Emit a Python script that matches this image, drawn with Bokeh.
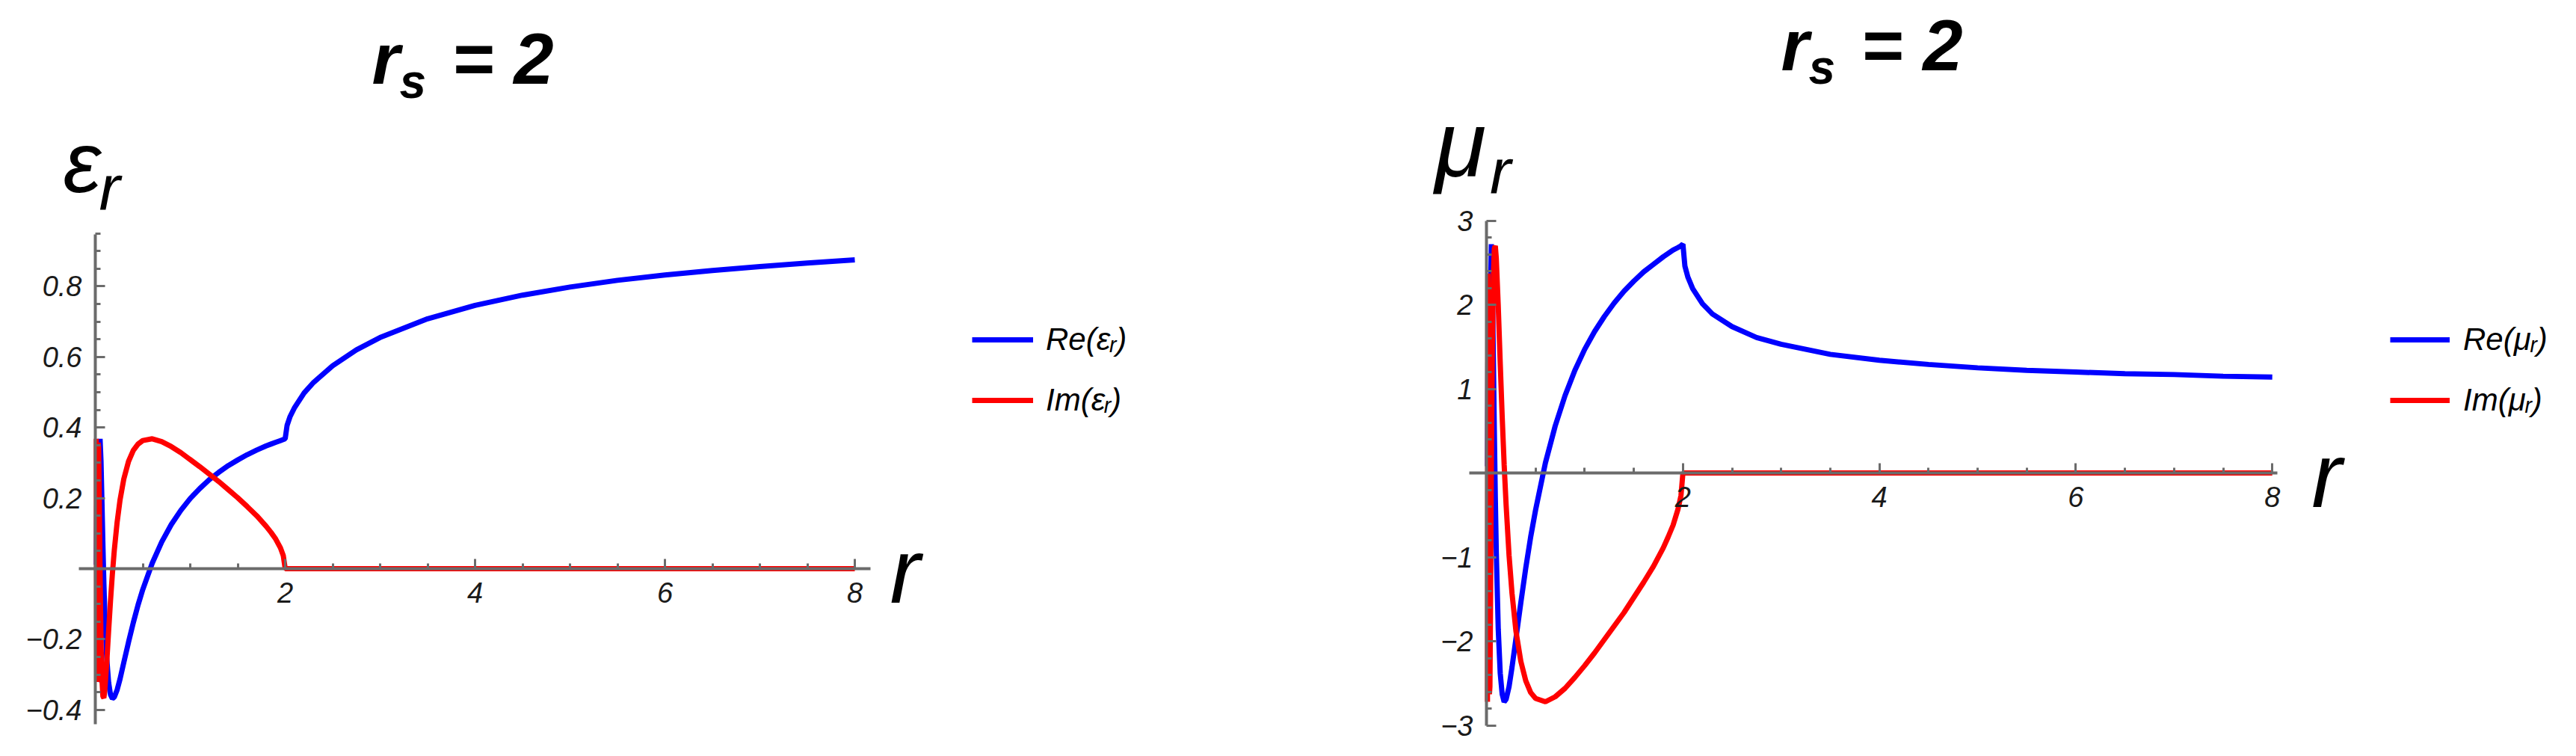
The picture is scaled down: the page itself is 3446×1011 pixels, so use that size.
from bokeh.plotting import figure
from bokeh.models import Range1d, LinearAxis, FixedTicker, Label, Legend, LegendItem
from bokeh.layouts import row
from bokeh.embed import file_html
from bokeh.resources import INLINE
import numpy as np

# ---------------- data ----------------
r = [0.01, 0.015, 0.02, 0.025, 0.03, 0.035, 0.04, 0.05, 0.06, 0.07, 0.08, 0.09, 0.1,
     0.12, 0.14, 0.16, 0.18, 0.2, 0.23, 0.26, 0.3, 0.35, 0.4, 0.45, 0.5, 0.6, 0.7, 0.8,
     0.9, 1.0, 1.1, 1.2, 1.3, 1.4, 1.5, 1.6, 1.7, 1.8, 1.85, 1.9, 1.95, 1.98, 2.0,
     2.02, 2.05, 2.1, 2.2, 2.3, 2.5, 2.75, 3.0, 3.5, 4.0, 4.5, 5.0, 5.5, 6.0, 6.5, 7.0,
     7.5, 8.0]

eps_re = [0.011, 0.179, -0.318, -0.316, -0.091, 0.130, 0.277, 0.368, 0.304, 0.189, 0.068,
          -0.039, -0.127, -0.252, -0.322, -0.357, -0.368, -0.364, -0.343, -0.313, -0.266,
          -0.208, -0.153, -0.103, -0.059, 0.016, 0.076, 0.125, 0.165, 0.199, 0.227, 0.252,
          0.273, 0.292, 0.308, 0.323, 0.336, 0.348, 0.353, 0.358, 0.363, 0.366, 0.368,
          0.406, 0.430, 0.457, 0.498, 0.528, 0.575, 0.620, 0.655, 0.708, 0.746, 0.775,
          0.798, 0.817, 0.832, 0.845, 0.856, 0.866, 0.875]

eps_im = [0.368, -0.321, -0.184, 0.188, 0.357, 0.344, 0.242, -0.014, -0.207, -0.316, -0.362,
          -0.366, -0.345, -0.268, -0.177, -0.091, -0.014, 0.052, 0.132, 0.194, 0.254, 0.304,
          0.335, 0.353, 0.363, 0.368, 0.360, 0.346, 0.329, 0.309, 0.289, 0.268, 0.247, 0.224,
          0.201, 0.176, 0.150, 0.120, 0.103, 0.084, 0.059, 0.037, 0.0,
          0.0, 0.0, 0.0, 0.0, 0.0, 0.0, 0.0, 0.0, 0.0, 0.0, 0.0, 0.0, 0.0, 0.0, 0.0, 0.0,
          0.0, 0.0]

mu_re = [0.08, 1.32, -2.35, -2.34, -0.67, 0.96, 2.05, 2.72, 2.25, 1.39, 0.51, -0.29, -0.94,
         -1.86, -2.38, -2.63, -2.72, -2.69, -2.54, -2.31, -1.97, -1.54, -1.13, -0.76, -0.44,
         0.12, 0.56, 0.92, 1.22, 1.47, 1.68, 1.86, 2.02, 2.16, 2.28, 2.39, 2.48, 2.57, 2.61,
         2.65, 2.68, 2.70, 2.72,
         2.46, 2.33, 2.19, 2.01, 1.89, 1.74, 1.61, 1.53, 1.41, 1.34, 1.29, 1.25, 1.22, 1.20,
         1.18, 1.17, 1.15, 1.14]

mu_im = [-2.72, 2.37, 1.36, -1.39, -2.63, -2.54, -1.79, 0.10, 1.53, 2.33, 2.67, 2.70, 2.55,
         1.98, 1.31, 0.67, 0.10, -0.38, -0.98, -1.43, -1.88, -2.24, -2.47, -2.61, -2.68,
         -2.72, -2.66, -2.56, -2.43, -2.29, -2.14, -1.98, -1.82, -1.66, -1.48, -1.30, -1.11,
         -0.89, -0.76, -0.62, -0.43, -0.27, 0.0,
         0.0, 0.0, 0.0, 0.0, 0.0, 0.0, 0.0, 0.0, 0.0, 0.0, 0.0, 0.0, 0.0, 0.0, 0.0, 0.0,
         0.0, 0.0]

eps_yticks = [-0.4, -0.2, 0.2, 0.4, 0.6, 0.8]
mu_yticks = [-3, -2, -1, 1, 2, 3]
x_ticks = [2, 4, 6, 8]

FONT = "Liberation Sans"
AX = "#6b6b6b"
BLUE = "#0000ff"
RED = "#ff0000"
H = 990


def axis(ticks, minor, overrides, bounds):
    return LinearAxis(fixed_location=0, bounds=bounds,
                      ticker=FixedTicker(ticks=ticks, minor_ticks=minor),
                      axis_line_color=AX, axis_line_width=4,
                      major_tick_line_color=AX, major_tick_line_width=3,
                      minor_tick_line_color=AX, minor_tick_line_width=3,
                      major_tick_in=13, major_tick_out=0,
                      minor_tick_in=7, minor_tick_out=0,
                      major_label_text_font=FONT, major_label_text_font_size="38px",
                      major_label_text_font_style="italic",
                      major_label_text_color="#1a1a1a",
                      major_label_standoff=18,
                      major_label_overrides=overrides)


def base_fig(width, left, x0, xs, y0, ys):
    # frame covers the whole canvas; x0/y0 = page pixel of the origin, xs/ys = px per unit
    xr = ((left - x0) / xs, (left + width - x0) / xs)
    yr = ((y0 - (8 + H)) / ys, (y0 - 8) / ys)
    p = figure(width=width, height=H, x_range=Range1d(*xr), y_range=Range1d(*yr),
               output_backend="svg", toolbar_location=None,
               x_axis_location=None, y_axis_location=None,
               min_border=0, min_border_left=0, min_border_right=0,
               min_border_top=0, min_border_bottom=0)
    p.xgrid.visible = False
    p.ygrid.visible = False
    p.outline_line_color = None
    p.background_fill_color = "white"
    p.border_fill_color = "white"
    return p


def lbl(p, x, y, text, size, style="italic"):
    p.add_layout(Label(x=x, y=y, text=text, text_font=FONT, text_font_size=size,
                       text_font_style=style, text_color="black",
                       text_align="left", text_baseline="alphabetic"))


x_minor = [float(v) for v in np.arange(0.5, 8.01, 0.5) if abs(v - round(v / 2) * 2) > 1e-9]

# ---------------- left panel: epsilon_r ----------------
p1 = base_fig(1712, 8, 135, 127.0, 768, 472.0)
eps_minor = [round(float(v), 2) for v in np.arange(-0.4, 0.951, 0.05)
             if abs(v) > 1e-9 and all(abs(v - t) > 1e-9 for t in eps_yticks)]
p1.add_layout(axis(x_ticks, x_minor, {}, (-0.173, 8.165)), "below")
p1.add_layout(axis(eps_yticks, eps_minor, {-0.4: "\u22120.4", -0.2: "\u22120.2"},
                   (-0.441, 0.947)), "left")

l1 = p1.line(r, eps_re, line_color=BLUE, line_width=7)
l2 = p1.line(r, eps_im, line_color=RED, line_width=7)

lbl(p1, 2.913, 1.444, "r", "96px", "bold italic")
lbl(p1, 3.205, 1.381, "s", "64px", "bold italic")
lbl(p1, 3.756, 1.444, "= 2", "96px", "bold italic")
lbl(p1, -0.339, 1.152, "\u03b5", "115px")
lbl(p1, 0.039, 1.078, "r", "85px")
lbl(p1, 8.37, -0.007, "r", "122px")

leg1 = Legend(items=[LegendItem(label="Re(\u03b5\u1d63)", renderers=[l1]),
                     LegendItem(label="Im(\u03b5\u1d63)", renderers=[l2])],
              location=(1300, 425), glyph_width=82, glyph_height=60, label_height=60,
              label_standoff=17, spacing=21, padding=0, margin=0,
              border_line_color=None, background_fill_alpha=0,
              label_text_font=FONT, label_text_font_size="42px",
              label_text_font_style="italic", label_text_color="black")
p1.add_layout(leg1)

# ---------------- right panel: mu_r ----------------
p2 = base_fig(1718, 1720, 1996, 131.4, 640, 112.5)
mu_minor = [round(float(v), 1) for v in np.arange(-3.0, 3.01, 0.2)
            if abs(v) > 1e-9 and all(abs(v - t) > 1e-9 for t in mu_yticks)]
p2.add_layout(axis(x_ticks, x_minor, {}, (-0.175, 8.05)), "below")
p2.add_layout(axis(mu_yticks, mu_minor, {-1: "\u22121", -2: "\u22122", -3: "\u22123"},
                   (-3.0, 3.0)), "left")

m1 = p2.line(r, mu_re, line_color=BLUE, line_width=7)
m2 = p2.line(r, mu_im, line_color=RED, line_width=7)

lbl(p2, 2.998, 5.085, "r", "96px", "bold italic")
lbl(p2, 3.280, 4.818, "s", "64px", "bold italic")
lbl(p2, 3.813, 5.085, "= 2", "96px", "bold italic")
lbl(p2, -0.525, 3.911, "\u03bc", "125px")
lbl(p2, 0.035, 3.582, "r", "85px")
lbl(p2, 8.40, -0.027, "r", "122px")

leg2 = Legend(items=[LegendItem(label="Re(\u03bc\u1d63)", renderers=[m1]),
                     LegendItem(label="Im(\u03bc\u1d63)", renderers=[m2])],
              location=(1485, 425), glyph_width=80, glyph_height=60, label_height=60,
              label_standoff=18, spacing=21, padding=0, margin=0,
              border_line_color=None, background_fill_alpha=0,
              label_text_font=FONT, label_text_font_size="42px",
              label_text_font_style="italic", label_text_color="black")
p2.add_layout(leg2)

layout = row(p1, p2)
open("out.html", "w").write(file_html(layout, INLINE))
